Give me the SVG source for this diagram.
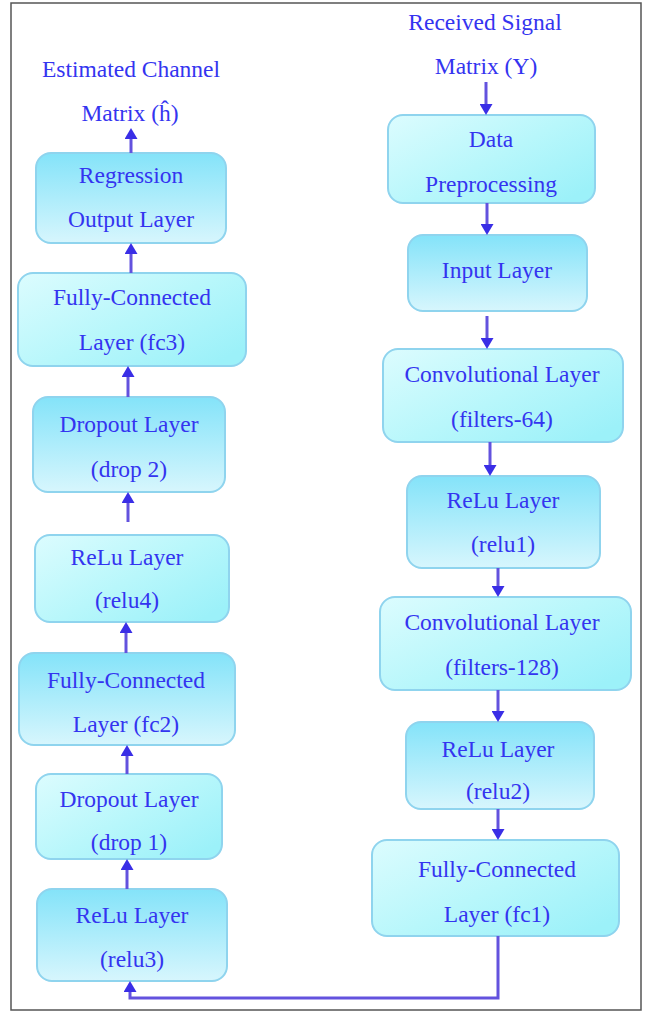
<svg xmlns="http://www.w3.org/2000/svg" width="648" height="1013" viewBox="0 0 648 1013">
<defs>
<linearGradient id="gA" x1="0" y1="0" x2="0" y2="1">
<stop offset="0" stop-color="#84e3f9"/>
<stop offset="1" stop-color="#d7f6fd"/>
</linearGradient>
<linearGradient id="gB" x1="0" y1="0" x2="1" y2="0.8">
<stop offset="0" stop-color="#dcfcfe"/>
<stop offset="0.55" stop-color="#b8f7fb"/>
<stop offset="1" stop-color="#9cf1f9"/>
</linearGradient>
<marker id="ah" viewBox="0 0 11 13" refX="6" refY="6.5" markerWidth="11" markerHeight="13" orient="auto" markerUnits="userSpaceOnUse">
<path d="M0,0 L11,6.5 L0,13 Z" fill="#3a2ee6"/>
</marker>
<style>
.a{fill:url(#gA);stroke:#8fd4ee;stroke-width:2}
.b{fill:url(#gB);stroke:#8fd4ee;stroke-width:2}
text{font-family:"Liberation Serif","Times New Roman",serif;font-size:23.5px;fill:#3434f0;text-anchor:middle}
.c{fill:none;stroke:#6352de;stroke-width:3}
.ar{marker-end:url(#ah)}
</style>
</defs>
<rect x="11" y="3" width="630" height="1007" fill="#ffffff" stroke="#555555" stroke-width="1.5"/>

<g id="title-out"><text x="131" y="77">Estimated Channel</text><text x="130" y="121">Matrix (ĥ)</text></g>
<g id="title-in"><text x="485" y="30">Received Signal</text><text x="486" y="74">Matrix (Y)</text></g>

<g id="regression"><rect class="a" x="36" y="153" width="190" height="90" rx="15"/><text x="131" y="183">Regression</text><text x="131" y="227">Output Layer</text></g>
<g id="fc3"><rect class="b" x="18" y="273" width="228" height="93" rx="15"/><text x="132" y="305">Fully-Connected</text><text x="132" y="350">Layer (fc3)</text></g>
<g id="drop2"><rect class="a" x="33" y="397" width="192" height="95" rx="15"/><text x="129" y="432">Dropout Layer</text><text x="129" y="477">(drop 2)</text></g>
<g id="relu4"><rect class="b" x="35" y="535" width="194" height="87" rx="15"/><text x="127" y="565">ReLu Layer</text><text x="127" y="608">(relu4)</text></g>
<g id="fc2"><rect class="a" x="19" y="653" width="216" height="92" rx="15"/><text x="126" y="688">Fully-Connected</text><text x="126" y="732">Layer (fc2)</text></g>
<g id="drop1"><rect class="b" x="36" y="774" width="186" height="85" rx="15"/><text x="129" y="807">Dropout Layer</text><text x="129" y="850">(drop 1)</text></g>
<g id="relu3"><rect class="a" x="37" y="889" width="190" height="92" rx="15"/><text x="132" y="923">ReLu Layer</text><text x="132" y="967">(relu3)</text></g>

<g id="preprocessing"><rect class="b" x="388" y="115" width="207" height="88" rx="15"/><text x="491" y="147">Data</text><text x="491" y="192">Preprocessing</text></g>
<g id="input"><rect class="a" x="408" y="235" width="179" height="76" rx="15"/><text x="497" y="278">Input Layer</text></g>
<g id="conv64"><rect class="b" x="383" y="349" width="240" height="93" rx="15"/><text x="502" y="382">Convolutional Layer</text><text x="502" y="427">(filters-64)</text></g>
<g id="relu1"><rect class="a" x="407" y="476" width="193" height="92" rx="15"/><text x="503" y="508">ReLu Layer</text><text x="503" y="552">(relu1)</text></g>
<g id="conv128"><rect class="b" x="380" y="597" width="251" height="93" rx="15"/><text x="502" y="630">Convolutional Layer</text><text x="502" y="675">(filters-128)</text></g>
<g id="relu2"><rect class="a" x="406" y="722" width="188" height="87" rx="15"/><text x="498" y="757">ReLu Layer</text><text x="498" y="799">(relu2)</text></g>
<g id="fc1"><rect class="b" x="372" y="840" width="247" height="96" rx="15"/><text x="497" y="877">Fully-Connected</text><text x="497" y="922">Layer (fc1)</text></g>

<g id="connectors">
<path class="c ar" d="M131,153 V133"/>
<path class="c ar" d="M131,273 V248"/>
<path class="c ar" d="M128,397 V371"/>
<path class="c ar" d="M128,522 V497"/>
<path class="c ar" d="M126,653 V627"/>
<path class="c ar" d="M127,774 V750"/>
<path class="c ar" d="M127,889 V864"/>
<path class="c ar" d="M486,82 V110"/>
<path class="c ar" d="M487,203 V230"/>
<path class="c ar" d="M487,316 V344"/>
<path class="c ar" d="M490,442 V471"/>
<path class="c ar" d="M498,568 V592"/>
<path class="c ar" d="M498,690 V717"/>
<path class="c ar" d="M498,809 V835"/>
<path class="c ar" d="M498,936 V998 H130 V986"/>
</g>
</svg>
